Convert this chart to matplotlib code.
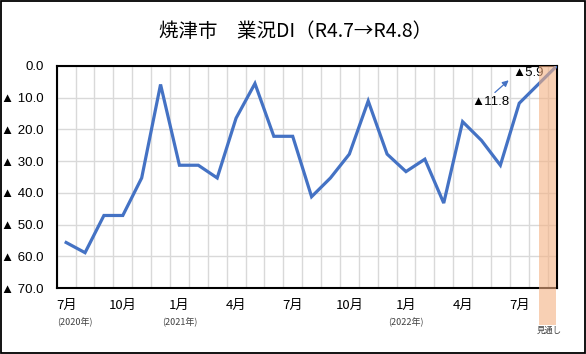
import numpy as np
import matplotlib.pyplot as plt
from matplotlib.patches import Rectangle
from matplotlib.transforms import blended_transform_factory

plt.rcParams['font.family'] = ['Liberation Sans', 'DejaVu Sans', 'Noto Sans CJK JP']

# 2020年7月 ... 2022年8月 (見通し), 最後の点は空欄(0)
months = ['7月', '8月', '9月', '10月', '11月', '12月',
          '1月', '2月', '3月', '4月', '5月', '6月', '7月', '8月', '9月', '10月', '11月', '12月',
          '1月', '2月', '3月', '4月', '5月', '6月', '7月', '8月', '']
di = [-55.6, -58.8, -47.1, -47.1, -35.3, -5.9,
      -31.3, -31.3, -35.3, -16.5, -5.6, -22.2, -22.2, -41.2, -35.3, -27.8, -11.1, -27.8,
      -33.3, -29.4, -43.2, -17.6, -23.5, -31.3, -11.8, -5.9, 0.0]
shown_months = [0, 3, 6, 9, 12, 15, 18, 21, 24]
years = {0: '(2020年)', 6: '(2021年)', 18: '(2022年)'}
yticks = [0, -10, -20, -30, -40, -50, -60, -70]

fig = plt.figure(figsize=(5.86, 3.54), dpi=100)
ax = fig.add_axes([0.0968, 0.1856, 0.8537, 0.6288])

x = np.arange(len(di))
ax.plot(x, di, color='#4472C4', lw=2.3, solid_joinstyle='miter', zorder=3)

ax.set_xlim(-0.5, 26.0)
ax.set_ylim(-70, 0)
ax.set_yticks(yticks)
ax.set_yticklabels(['0.0'] + ['▲ %.1f' % (-v) for v in yticks[1:]], fontsize=9.5)
ax.set_xticks(np.arange(-0.5, 26, 1), minor=True)
ax.set_xticks(shown_months)
ax.set_xticklabels([months[i] for i in shown_months], fontsize=9.5,
                   family=['Noto Sans CJK JP'])
ax.tick_params(axis='both', which='both', length=0)
ax.tick_params(axis='x', pad=8)
ax.tick_params(axis='y', pad=9.5)
ax.grid(which='minor', axis='x', color='#d9d9d9', lw=1)
ax.grid(which='major', axis='y', color='#d9d9d9', lw=1)
ax.set_axisbelow(True)
for s in ax.spines.values():
    s.set_linewidth(1.5)
    s.set_color('black')

tr = blended_transform_factory(ax.transData, ax.transAxes)
for i, t in years.items():
    xi = i + 0.45 if i == 0 else i
    ax.text(xi, -0.155, t, transform=tr, ha='center', va='center', fontsize=6.5,
            color='#404040', family=['Noto Sans CJK JP'])

# 見通し
ax.add_patch(Rectangle((25.07, -0.166), 0.9, 1.166, transform=tr, facecolor='#f4b183',
                       alpha=0.6, edgecolor='none', clip_on=False, zorder=5))
ax.text(25.6, -0.19, '見通し', transform=tr, ha='center', va='center', fontsize=6,
        color='#404040', family=['Noto Sans CJK JP'])

# 注記
ax.text(23.5, -11.4, '▲11.8', ha='right', va='center', fontsize=9.5)
ax.text(23.65, -2.3, '▲5.9', ha='left', va='center', fontsize=9.5)
ax.annotate('', xy=(23.55, -4.0), xytext=(22.6, -9.0),
            arrowprops=dict(arrowstyle='-|>', color='#4472C4', lw=0.9, mutation_scale=9))

fig.text(0.505, 0.91, '焼津市　業況DI（R4.7→R4.8）', ha='center', va='center', fontsize=14,
         family=['Noto Sans CJK JP'])
fig.patches.append(Rectangle((0.001, 0.002), 0.997, 0.995, transform=fig.transFigure,
                             fill=False, edgecolor='black', lw=1.3))

fig.savefig('out.png', dpi=100)
